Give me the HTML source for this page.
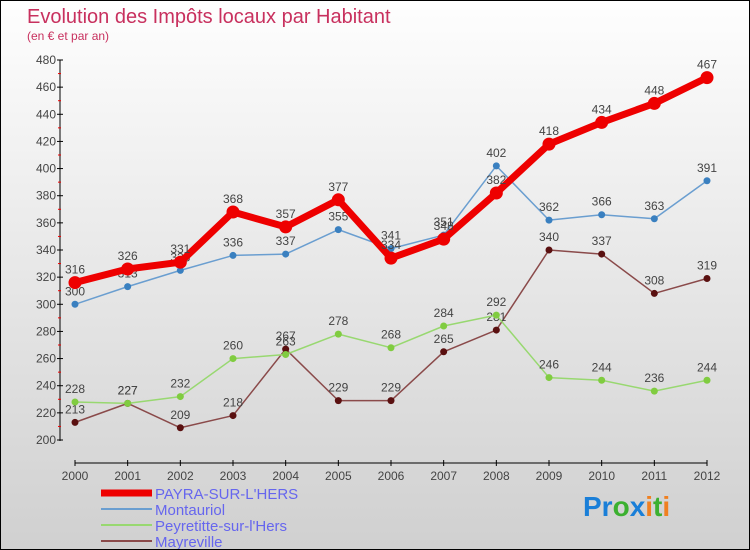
<!DOCTYPE html>
<html><head><meta charset="utf-8"><style>
body{margin:0;width:750px;height:550px;overflow:hidden;font-family:"Liberation Sans",sans-serif}
#wrap{position:relative;width:748px;height:548px;border:1px solid #000;background:linear-gradient(#fefefe,#d0d0d0)}
</style></head><body>
<div id="wrap">
<svg id="chart" width="748" height="548" style="position:absolute;left:0;top:0">
<text x="26" y="22" font-size="20" fill="#c8305e">Evolution des Impôts locaux par Habitant</text>
<text x="26" y="39" font-size="12" fill="#c8305e">(en € et par an)</text>
</svg>
</div>
<script>
const years=[2000,2001,2002,2003,2004,2005,2006,2007,2008,2009,2010,2011,2012];
const payra=[316,326,331,368,357,377,334,348,382,418,434,448,467];
const montauriol=[300,313,325,336,337,355,341,351,402,362,366,363,391];
const peyretitte=[228,227,232,260,263,278,268,284,292,246,244,236,244];
const mayreville=[213,227,209,218,267,229,229,265,281,340,337,308,319];
const yTicks=[200,220,240,260,280,300,320,340,360,380,400,420,440,460,480];
const seriesNames=["PAYRA-SUR-L'HERS","Montauriol","Peyretitte-sur-l'Hers","Mayreville"];
const svg=document.getElementById('chart');
const NS='http://www.w3.org/2000/svg';
const xS=i=>74+i*(632/(years.length-1));
const yS=v=>439-(v-200)*(380/280);
function mk(t,a){const e=document.createElementNS(NS,t);for(const k in a)e.setAttribute(k,a[k]);svg.appendChild(e);return e;}
let e;
e=mk('line',{x1:59,y1:59,x2:59,y2:440,stroke:'#000','stroke-width':1});


e=mk('line',{x1:74,y1:462,x2:706,y2:462,stroke:'#000','stroke-width':1});


yTicks.forEach(v=>{
 const y=yS(v);
 mk('line',{x1:56,y1:y,x2:62,y2:y,stroke:'#000'});
 if(v<480) mk('line',{x1:57,y1:y-yS(200)/1+yS(210),x2:60,y2:y-yS(200)+yS(210),stroke:'#e00'});
 e=mk('text',{x:55,y:y+4,'font-size':12,'text-anchor':'end',fill:'#444'});
 e.textContent=v;
 
 
});
years.forEach((yr,i)=>{
 const x=xS(i);
 mk('line',{x1:x,y1:459,x2:x,y2:465,stroke:'#000'});
 e=mk('text',{x:x,y:479,'font-size':12,'text-anchor':'middle',fill:'#444'});
 e.textContent=yr;
 
 
});
function series(data,color,dot,w,r,name){
 const g=document.createElementNS(NS,'g');svg.appendChild(g);
 
 
 const p=document.createElementNS(NS,'polyline');
 p.setAttribute('points',data.map((v,i)=>xS(i)+','+yS(v)).join(' '));
 p.setAttribute('fill','none');p.setAttribute('stroke',color);p.setAttribute('stroke-width',w);p.setAttribute('stroke-linejoin','round');
 g.appendChild(p);
 data.forEach((v,i)=>{
  const c=document.createElementNS(NS,'circle');
  c.setAttribute('cx',xS(i));c.setAttribute('cy',yS(v));c.setAttribute('r',r);c.setAttribute('fill',dot);
  
  
  g.appendChild(c);
  const t=document.createElementNS(NS,'text');
  t.setAttribute('x',xS(i));t.setAttribute('y',yS(v)-9);t.setAttribute('font-size',12);t.setAttribute('text-anchor','middle');t.setAttribute('fill','#444');
  t.textContent=v;
  
  
  g.appendChild(t);
 });
}
series(mayreville,'#8a4a4a','#5a1010',1.5,3.5,'series-mayreville');
series(peyretitte,'#98d870','#80cc40',1.5,3.5,'series-peyretitte');
series(montauriol,'#6a9ed0','#3a80c0',1.5,3.5,'series-montauriol');
series(payra,'#ee0000','#ee0000',7,6.5,'series-payra');
const legC=[['#ee0000',7],['#6a9ed0',2],['#98d870',2],['#8a4a4a',2]];
seriesNames.forEach((n,i)=>{
 const y=492+i*16;
 e=mk('line',{x1:100,y1:y,x2:151,y2:y,stroke:legC[i][0],'stroke-width':legC[i][1]});
 
 
 e=mk('text',{x:154,y:y+6,'font-size':15,fill:'#6666ee'});
 e.textContent=n;
 
 
});
e=mk('text',{x:582,y:515,'font-size':28,'font-weight':'bold',fill:'#1a7fd8'});


e.innerHTML='<tspan fill="#1a7fd8">Pr</tspan><tspan fill="#3cb030">o</tspan><tspan fill="#1a7fd8">x</tspan><tspan fill="#f08020">i</tspan><tspan fill="#3cb030">t</tspan><tspan fill="#f08020">i</tspan>';
</script>
</body></html>
